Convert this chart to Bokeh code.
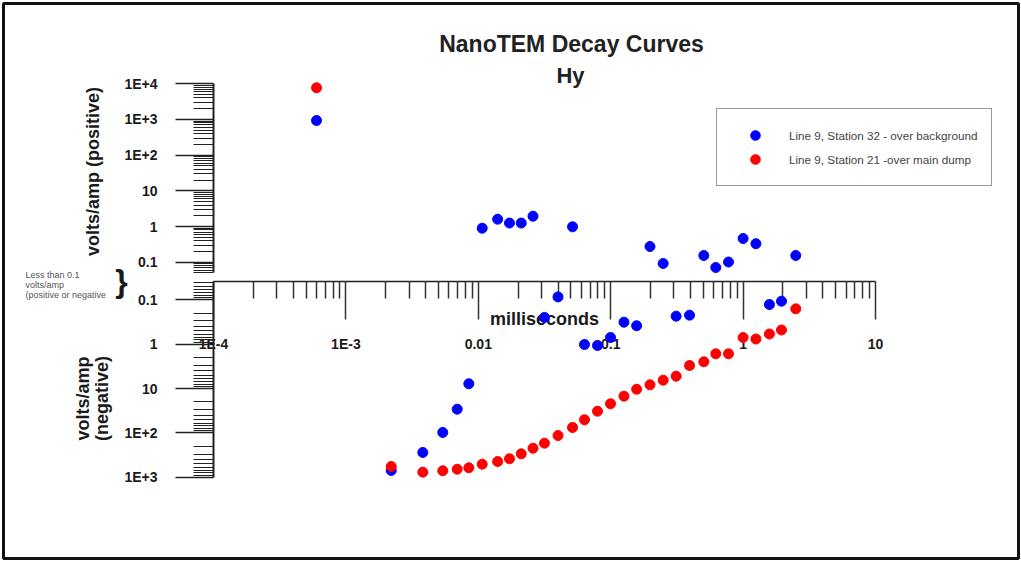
import math
from bokeh.plotting import figure
from bokeh.models import FixedTicker, LinearAxis, Range1d, Label, Legend, LegendItem, ColumnDataSource
from bokeh.embed import file_html
from bokeh.resources import INLINE

# ---------------- data ----------------
times_ms = [6.0e-4, 2.2e-3, 3.81e-3, 5.39e-3, 6.93e-3, 8.48e-3, 0.0107, 0.0140, 0.0172,
            0.0211, 0.0259, 0.0316, 0.0400, 0.0515, 0.0634, 0.0795, 0.0997, 0.126, 0.157,
            0.198, 0.249, 0.312, 0.394, 0.505, 0.622, 0.776, 1.00, 1.25, 1.58, 1.95, 2.50]

# signed volts/amp (negative numbers = negative readings)
station32_values = [931, -706, -277, -98, -29.3, -7.83, 0.895, 1.60, 1.25, 1.25, 1.94,
                    -0.25, -0.086, 0.98, -1.02, -1.07, -0.708, -0.32, -0.385, 0.275, 0.092,
                    -0.234, -0.222, 0.154, 0.071, 0.101, 0.461, 0.33, -0.128, -0.1075, 0.154]

station21_values = [7680, -574, -771, -717, -660, -614, -509, -443, -385, -297, -222,
                    -171, -115, -75.7, -50.8, -32.5, -22.1, -14.9, -10.4, -8.26, -6.50,
                    -5.28, -3.03, -2.50, -1.65, -1.65, -0.708, -0.766, -0.59, -0.48, -0.16]

series_labels = ["Line 9, Station 32 - over background", "Line 9, Station 21 -over main dump"]

x_major_ticks = [1e-4, 1e-3, 1e-2, 1e-1, 1, 10]
x_tick_labels = ["1E-4", "1E-3", "0.01", "0.1", "1", "10"]
pos_major = [0.1, 1, 10, 100, 1000, 10000]
pos_labels = ["0.1", "1", "10", "1E+2", "1E+3", "1E+4"]
neg_major = [0.1, 1, 10, 100, 1000]
neg_labels = ["0.1", "1", "10", "1E+2", "1E+3"]

# ---------------- split log scale (positive half above, negative half below) ----------------
W, H = 1021, 561
POS_BASE, POS_DEC = 299.3, 35.7      # vertical position of +0.1, pixels per decade
NEG_BASE, NEG_DEC = 261.7, 44.35     # vertical position of -0.1, pixels per decade
X_AXIS_Y = 280.3
X_ORIGIN, X_DEC = 213.0, 132.4       # pixel of 1E-4, pixels per decade
FRAME = 3


def y_pos(v):
    return POS_BASE + POS_DEC * (math.log10(v) + 1)


def y_neg(m):
    return NEG_BASE - NEG_DEC * (math.log10(m) + 1)


def y_signed(v):
    return y_pos(v) if v > 0 else y_neg(-v)


FONT = "Liberation Sans"
x_start = 10 ** (-4 - (X_ORIGIN - FRAME) / X_DEC)
x_end = 10 ** (-4 + (W - FRAME - X_ORIGIN) / X_DEC)

p = figure(width=W, height=H, x_axis_type="log", x_range=Range1d(x_start, x_end),
           y_range=Range1d(FRAME, H - FRAME), output_backend="svg", toolbar_location=None,
           title=None, min_border_left=FRAME, min_border_right=FRAME,
           min_border_top=FRAME, min_border_bottom=FRAME)
p.xgrid.visible = False
p.ygrid.visible = False
p.outline_line_color = "#111111"
p.outline_line_width = 3
p.background_fill_color = "white"
p.border_fill_color = "white"

# ---------------- x axis (through the middle) ----------------
xa = p.xaxis[0]
x_minor = [k * 10.0 ** d for d in range(-4, 1) for k in range(2, 10)]
xa.ticker = FixedTicker(ticks=x_major_ticks, minor_ticks=x_minor)
xa.major_label_overrides = dict(zip(x_major_ticks, x_tick_labels))
xa.fixed_location = X_AXIS_Y
xa.bounds = (1e-4, 10)
xa.major_tick_out = 38
xa.minor_tick_out = 17
xa.major_tick_in = 0
xa.minor_tick_in = 0
xa.major_label_standoff = 17
xa.major_label_text_font = FONT
xa.major_label_text_font_size = "14px"
xa.major_label_text_font_style = "bold"
xa.major_label_text_color = "#1a1a1a"
xa.axis_line_color = "#222222"
xa.axis_line_width = 1.5
xa.major_tick_line_color = "#333333"
xa.major_tick_line_width = 1.5
xa.minor_tick_line_color = "#333333"
xa.minor_tick_line_width = 1.5
xa.level = "underlay"


def style_y(ax):
    ax.fixed_location = 10 ** -4
    ax.major_tick_out = 38
    ax.minor_tick_out = 20
    ax.major_tick_in = 0
    ax.minor_tick_in = 0
    ax.major_label_standoff = 18
    ax.major_label_text_font = FONT
    ax.major_label_text_font_size = "14px"
    ax.major_label_text_font_style = "bold"
    ax.major_label_text_color = "#1a1a1a"
    ax.axis_line_color = "#222222"
    ax.axis_line_width = 2
    ax.major_tick_line_color = "#222222"
    ax.major_tick_line_width = 1.5
    ax.minor_tick_line_color = "#222222"
    ax.minor_tick_line_width = 1
    ax.level = "underlay"


# positive half
ya = p.yaxis[0]
pos_minor = [k * 10.0 ** d for d in range(-2, 4) for k in range(2, 10) if k * 10.0 ** d >= 0.05]
ya.ticker = FixedTicker(ticks=[y_pos(v) for v in pos_major], minor_ticks=[y_pos(v) for v in pos_minor])
ya.major_label_overrides = {y_pos(v): lab for v, lab in zip(pos_major, pos_labels)}
ya.bounds = (y_pos(0.05) - 0.01, y_pos(1e4) + 0.01)
style_y(ya)

# negative half
yb = LinearAxis()
neg_minor = [k * 10.0 ** d for d in range(-2, 3) for k in range(2, 10) if k * 10.0 ** d >= 0.04]
yb.ticker = FixedTicker(ticks=[y_neg(v) for v in neg_major], minor_ticks=[y_neg(v) for v in neg_minor])
yb.major_label_overrides = {y_neg(v): lab for v, lab in zip(neg_major, neg_labels)}
yb.bounds = (y_neg(1000) - 0.01, X_AXIS_Y)
style_y(yb)
p.add_layout(yb, "left")

# ---------------- points ----------------
src32 = ColumnDataSource(dict(t=times_ms, y=[y_signed(v) for v in station32_values]))
src21 = ColumnDataSource(dict(t=times_ms, y=[y_signed(v) for v in station21_values]))
r32 = p.scatter("t", "y", source=src32, marker="circle", size=10, fill_color="#0000ff", line_color="#0000ff")
r21 = p.scatter("t", "y", source=src21, marker="circle", size=10, fill_color="#ff0000", line_color="#ff0000")

legend = Legend(items=[LegendItem(label=series_labels[0], renderers=[r32]),
                       LegendItem(label=series_labels[1], renderers=[r21])],
                location=(716 - FRAME, (H - FRAME) - 186))
legend.glyph_width = 48
legend.glyph_height = 24
legend.label_height = 24
legend.label_standoff = 10
legend.padding = 14
legend.spacing = 0
legend.margin = 0
legend.border_line_color = "#333333"
legend.border_line_width = 1.5
legend.label_text_font = FONT
legend.label_text_font_size = "11.7px"
legend.label_text_color = "#444444"
p.add_layout(legend)


# ---------------- texts ----------------
def add_label(text, rx, ry, size, bold=True, angle=0.0, align="center", color="#1a1a1a", level="annotation"):
    lab = Label(x=rx - FRAME, y=H - ry, x_units="screen", y_units="data", text=text,
                text_align=align, text_baseline="middle", angle=angle,
                text_font=FONT, text_font_size=size,
                text_font_style="bold" if bold else "normal", text_color=color, level=level)
    p.add_layout(lab)


add_label("NanoTEM Decay Curves", 571, 43, "23px", color="#222222")
add_label("Hy", 570, 75, "22px", color="#222222")
add_label("volts/amp (positive)", 92, 171, "18px", angle=math.pi / 2)
add_label("volts/amp", 82, 398, "18px", angle=math.pi / 2)
add_label("(negative)", 101, 398, "18px", angle=math.pi / 2)
add_label("milliseconds", 544, 318, "18px", level="underlay")
add_label("}", 121, 280, "32px")
add_label("Less than 0.1", 25, 274, "9px", bold=False, align="left", color="#555555")
add_label("volts/amp", 25, 284, "9px", bold=False, align="left", color="#555555")
add_label("(positive or negative", 25, 294, "9px", bold=False, align="left", color="#555555")

open("out.html", "w").write(file_html(p, INLINE))
